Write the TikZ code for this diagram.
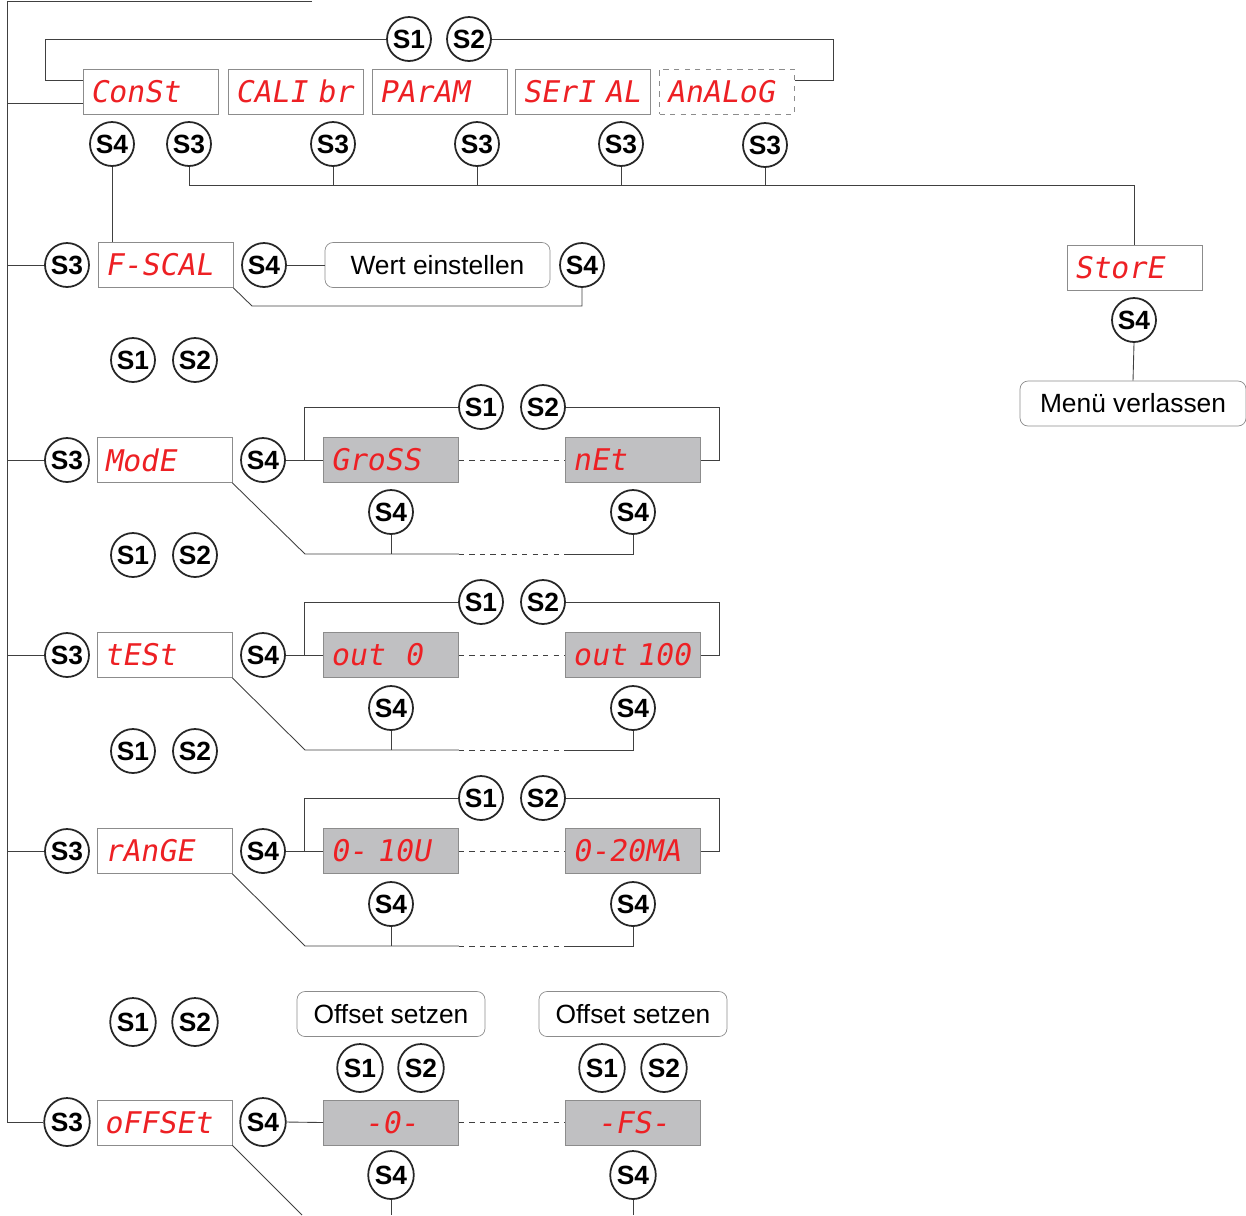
\documentclass[tikz,border=0pt]{standalone}
\usepackage{fontspec}
\setmainfont{Liberation Sans}
\newfontfamily\segfont{DejaVu Sans Mono}[FakeSlant=0.18]
\usetikzlibrary{calc,shapes.geometric}
\definecolor{segred}{RGB}{237,32,36}
\definecolor{lcdgray}{RGB}{192,192,194}
\definecolor{boxgray}{RGB}{140,140,140}
\tikzset{
  btn/.style={circle,draw=black!85,line width=1pt,fill=white,minimum size=0.88cm,inner sep=0pt,
    font=\fontsize{15}{15}\selectfont\bfseries},
  btnv/.style={btn,ellipse,minimum width=0.88cm,minimum height=0.96cm},
  lcd/.style={draw=boxgray,minimum width=2.7cm,minimum height=0.9cm,inner xsep=0.14cm,
    text width=2.42cm,align=left,text=segred,font=\segfont\fontsize{17}{17}\selectfont},
  lcdsel/.style={lcd,fill=lcdgray},
  note/.style={draw=boxgray,rounded corners=0.16cm,minimum height=0.9cm,
    font=\fontsize{15}{15}\selectfont},
  wire/.style={draw=black!75,line width=0.5pt},
}

\begin{document}
\begin{tikzpicture}[x=0.02cm,y=-0.02cm]
  \useasboundingbox (0,0) rectangle (1246,1215);
  \coordinate (rail) at (7,0);
  \coordinate (bus) at (0,185);
  \coordinate (bot) at (0,1215);

  % main menu
  \node[lcd] (const) at (150.5,91.5) {ConSt};
  \node[lcd] (calibr) at (295.5,91.5) {CALI br};
  \node[lcd] (param) at (439.5,91.5) {PArAM};
  \node[lcd] (serial) at (583,91.5) {SErI AL};
  \node[lcd,dashed] (analog) at (727,91.5) {AnALoG};
  \node[btn] (hS1) at (409,39) {S1};
  \node[btn] (hS2) at (469,39) {S2};
  \node[btn] (cS4) at (112,144) {S4};
  \node[btn] (cS3) at (189,144) {S3};
  \node[btn] (kS3) at (333,144) {S3};
  \node[btn] (pS3) at (477,144) {S3};
  \node[btn] (sS3) at (621,144) {S3};
  \node[btn] (aS3) at (765,145) {S3};
  \node[lcd] (store) at (1134.5,267.5) {StorE};
  \node[btn] (stS4) at (1134,320) {S4};
  \node[note,minimum width=4.52cm] (menu) at (1133,403.5) {Menü verlassen};

  \coordinate (cin) at ([yshift=-0.23cm]const.west);
  \draw[wire] (cin) -- (cin -| rail);
  \draw[wire] (hS1.west) -- (45,39) |- ([yshift=0.23cm]const.west);
  \draw[wire] (hS2.east) -- (833,39) |- ([yshift=0.23cm]analog.east);
  \draw[wire] (cS3.south) |- (bus -| store.north) -- (store.north);
  \draw[wire] (kS3.south) -- (kS3.south |- bus);
  \draw[wire] (pS3.south) -- (pS3.south |- bus);
  \draw[wire] (sS3.south) -- (sS3.south |- bus);
  \draw[wire] (aS3.south) -- (aS3.south |- bus);
  \draw[wire] (stS4.south) -- (menu.north);

  % F-SCAL
  \node[btn] (fS3) at (67,265) {S3};
  \node[lcd] (fscal) at (165.5,265) {F-SCAL};
  \node[btn] (fS4) at (264,265) {S4};
  \node[note,minimum width=4.5cm] (wert) at (437.5,265) {Wert einstellen};
  \node[btn] (fS4b) at (582,265) {S4};
  \coordinate (fB) at (252,306);
  \draw[wire] (cS4.south) -- (cS4.south |- fscal.north);
  \draw[wire] (fS3.west) -- (fS3.west -| rail);
  \draw[wire] (fS4.east) -- (wert.west);
  \draw[wire] (fscal.south east) -- (fB) -| (fS4b.south);

  \node[btn] (aS1) at (133,360) {S1};
  \node[btn] (aS2) at (195,360) {S2};

  % ModE
  \node[btn] (mS3) at (67,460) {S3};
  \node[lcd] (mode) at (164.5,460) {ModE};
  \node[btn] (mS4) at (263,460) {S4};
  \node[lcdsel] (gross) at (391,460) {GroSS};
  \node[lcdsel] (net) at (633,460) {nEt};
  \node[btn] (mS1) at (481,407) {S1};
  \node[btn] (mS2) at (543,407) {S2};
  \node[btn] (mS4a) at (391,512) {S4};
  \node[btn] (mS4b) at (633,512) {S4};
  \coordinate (mB) at (305,554);
  \draw[wire] (mS3.west) -- (mS3.west -| rail);
  \draw[wire] (mS4.east) -- (gross.west);
  \draw[wire] ($(mS4.east)!0.5!(gross.west)$) |- (mS1.west);
  \draw[wire] (mS2.east) -| ([xshift=0.38cm]net.east) -- (net.east);
  \draw[wire,dashed] (gross.east) -- (net.west);
  \draw[wire] (mode.south east) -- (mB) -- (mB -| gross.east);
  \draw[wire,dashed] (mB -| gross.east) -- (mB -| net.west);
  \draw[wire] (mB -| net.west) -| (mS4b.south);
  \draw[wire] (mS4a.south) -- (mS4a.south |- mB);

  \node[btn] (bS1) at (133,555) {S1};
  \node[btn] (bS2) at (195,555) {S2};

  % tESt
  \node[btn] (eS3) at (67,655) {S3};
  \node[lcd] (test) at (164.5,655) {tESt};
  \node[btn] (eS4) at (263,655) {S4};
  \node[lcdsel] (outlo) at (391,655) {out\ \ 0};
  \node[lcdsel] (outhi) at (633,655) {out 100};
  \node[btn] (eS1) at (481,602) {S1};
  \node[btn] (eS2) at (543,602) {S2};
  \node[btn] (eS4a) at (391,708) {S4};
  \node[btn] (eS4b) at (633,708) {S4};
  \coordinate (eB) at (305,750);
  \draw[wire] (eS3.west) -- (eS3.west -| rail);
  \draw[wire] (eS4.east) -- (outlo.west);
  \draw[wire] ($(eS4.east)!0.5!(outlo.west)$) |- (eS1.west);
  \draw[wire] (eS2.east) -| ([xshift=0.38cm]outhi.east) -- (outhi.east);
  \draw[wire,dashed] (outlo.east) -- (outhi.west);
  \draw[wire] (test.south east) -- (eB) -- (eB -| outlo.east);
  \draw[wire,dashed] (eB -| outlo.east) -- (eB -| outhi.west);
  \draw[wire] (eB -| outhi.west) -| (eS4b.south);
  \draw[wire] (eS4a.south) -- (eS4a.south |- eB);

  \node[btn] (cS1) at (133,751) {S1};
  \node[btn] (cS2) at (195,751) {S2};

  % rAnGE
  \node[btn] (rS3) at (67,851) {S3};
  \node[lcd] (range) at (164.5,851) {rAnGE};
  \node[btn] (rS4) at (263,851) {S4};
  \node[lcdsel] (volt) at (391,851) {0- 10U};
  \node[lcdsel] (curr) at (633,851) {0-20MA};
  \node[btn] (rS1) at (481,798) {S1};
  \node[btn] (rS2) at (543,798) {S2};
  \node[btn] (rS4a) at (391,904) {S4};
  \node[btn] (rS4b) at (633,904) {S4};
  \coordinate (rB) at (305,946);
  \draw[wire] (rS3.west) -- (rS3.west -| rail);
  \draw[wire] (rS4.east) -- (volt.west);
  \draw[wire] ($(rS4.east)!0.5!(volt.west)$) |- (rS1.west);
  \draw[wire] (rS2.east) -| ([xshift=0.38cm]curr.east) -- (curr.east);
  \draw[wire,dashed] (volt.east) -- (curr.west);
  \draw[wire] (range.south east) -- (rB) -- (rB -| volt.east);
  \draw[wire,dashed] (rB -| volt.east) -- (rB -| curr.west);
  \draw[wire] (rB -| curr.west) -| (rS4b.south);
  \draw[wire] (rS4a.south) -- (rS4a.south |- rB);

  \node[btnv] (dS1) at (133,1022) {S1};
  \node[btnv] (dS2) at (195,1022) {S2};

  % oFFSEt
  \node[note,minimum width=3.76cm] (setlo) at (391,1014) {Offset setzen};
  \node[note,minimum width=3.76cm] (sethi) at (633,1014) {Offset setzen};
  \node[btnv] (oS1a) at (360,1068) {S1};
  \node[btnv] (oS2a) at (421,1068) {S2};
  \node[btnv] (oS1b) at (602,1068) {S1};
  \node[btnv] (oS2b) at (664,1068) {S2};
  \node[btnv] (oS3) at (67,1122) {S3};
  \node[lcd] (offset) at (164.5,1122.5) {oFFSEt};
  \node[btnv] (oS4) at (263,1122) {S4};
  \node[lcdsel,align=center] (zero) at (391,1122.5) {-0-};
  \node[lcdsel,align=center] (fs) at (633,1122.5) {-FS-};
  \node[btnv] (oS4a) at (391,1175) {S4};
  \node[btnv] (oS4b) at (633,1175) {S4};
  \draw[wire] (oS4.east) -- (zero.west);
  \draw[wire,dashed] (zero.east) -- (fs.west);
  \draw[wire] (offset.south east) -- (302,1215);
  \draw[wire] (oS4a.south) -- (oS4a.south |- bot);
  \draw[wire] (oS4b.south) -- (oS4b.south |- bot);

  % left rail
  \draw[wire] (312,1) -- (7,1) |- (oS3.west);
\end{tikzpicture}
\end{document}
